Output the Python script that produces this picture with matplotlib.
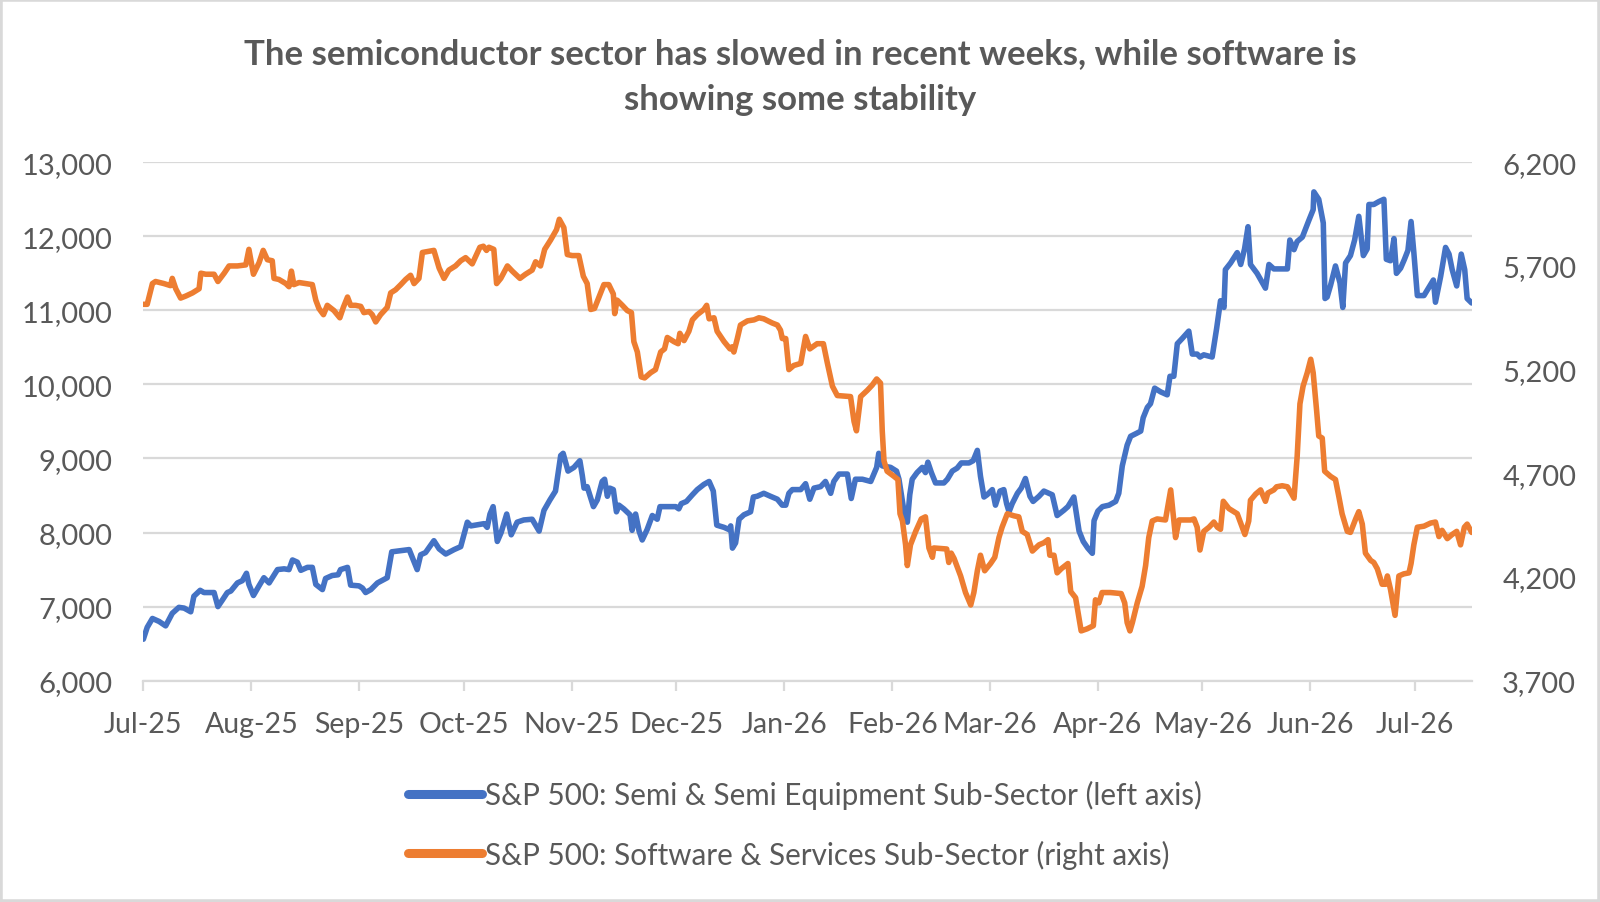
import matplotlib
matplotlib.use("Agg")
import matplotlib.pyplot as plt
import matplotlib.dates as mdates
from matplotlib.patches import Rectangle
from matplotlib.ticker import FuncFormatter
import pandas as pd

plt.rcParams['font.family'] = ['Lato', 'DejaVu Sans']

# days after 1 Jul 2025, index level
semi_days = [0, 1.1, 2.6, 4.5, 6.4, 8.3, 10.2, 11.7, 13.6, 14.5,
             16.3, 17.4, 20.3, 21.4, 22.7, 24.1, 25.1, 27.0, 28.4, 29.6,
             30.3, 31.6, 33.2, 34.6, 36.1, 38.5, 40.4, 41.8, 42.8, 44.2,
             45.2, 47.1, 48.5, 49.5, 51.4, 52.3, 54.2, 55.9, 56.6, 58.6,
             59.5, 61.9, 62.9, 63.8, 65.3, 67.2, 70.0, 71.3, 72.9, 76.3,
             77.5, 78.6, 79.6, 81.0, 83.4, 84.9, 86.8, 89.2, 91.1, 93.0,
             94.0, 96.6, 97.8, 98.7, 99.5, 100.4, 101.6, 102.7, 104.3, 105.6,
             107.3, 109.2, 111.6, 113.6, 115.0, 116.7, 118.3, 119.8, 120.5, 121.9,
             123.6, 125.3, 126.0, 126.5, 127.4, 129.2, 130.3, 131.7, 132.4, 133.2,
             133.9, 134.9, 135.8, 136.5, 137.9, 139.7, 140.3, 141.3, 142.3, 143.2,
             144.6, 146.1, 147.5, 148.3, 150.4, 152.8, 153.7, 154.4, 155.9, 157.6,
             159.0, 160.9, 162.4, 163.6, 164.6, 166.7, 168.1, 168.6, 169.1, 170.0,
             171.0, 172.4, 174.3, 175.1, 176.2, 178.1, 180.0, 182.0, 183.4, 184.4,
             185.3, 186.3, 188.7, 190.1, 191.3, 192.5, 194.4, 195.8, 197.3, 198.2,
             199.7, 202.1, 203.2, 204.4, 206.4, 208.8, 209.7, 210.5, 211.1, 212.1,
             214.5, 216.2, 216.9, 218.3, 219.3, 220.0, 220.7, 222.1, 223.6, 224.5,
             225.2, 226.2, 227.4, 229.8, 230.8, 232.2, 233.6, 234.8, 237.0, 238.2,
             239.4, 240.3, 241.3, 242.2, 243.7, 244.6, 245.9, 247.0, 247.8, 248.5,
             249.4, 250.9, 252.0, 253.2, 254.5, 255.4, 257.1, 258.5, 259.9, 260.9,
             262.3, 264.2, 265.4, 267.1, 268.6, 269.8, 271.1, 272.4, 272.9, 274.0,
             275.3, 277.2, 279.1, 280.0, 281.0, 282.4, 283.4, 285.1, 286.3, 287.0,
             288.2, 289.1, 290.3, 292.0, 293.9, 294.7, 295.8, 296.8, 298.2, 300.1,
             301.1, 302.5, 303.3, 304.4, 306.8, 308.1, 309.2, 310.2, 310.6, 312.1,
             314.0, 315.0, 316.1, 317.1, 317.8, 319.7, 322.1, 323.1, 324.5, 328.4,
             329.1, 330.3, 331.2, 332.7, 334.6, 335.8, 336.0, 337.4, 338.7, 339.2,
             339.8, 340.8, 342.2, 343.5, 344.3, 345.1, 346.5, 347.7, 348.9, 350.2,
             351.3, 351.8, 353.2, 354.7, 356.1, 356.8, 358.0, 359.0, 359.7, 360.9,
             362.0, 363.0, 363.9, 364.7, 365.7, 367.6, 370.3, 370.9, 372.4, 373.8,
             374.8, 375.7, 377.0, 378.3, 379.3, 380.0, 381.3]
semi_vals = [6560, 6720, 6840, 6800, 6740, 6910, 6990, 6980, 6930, 7140,
             7220, 7190, 7190, 7000, 7090, 7190, 7210, 7320, 7350, 7450,
             7300, 7150, 7280, 7390, 7320, 7500, 7510, 7500, 7630, 7600,
             7490, 7530, 7530, 7300, 7230, 7380, 7420, 7430, 7500, 7530,
             7290, 7280, 7250, 7190, 7230, 7320, 7390, 7740, 7750, 7770,
             7630, 7500, 7700, 7730, 7890, 7780, 7710, 7770, 7810, 8140,
             8090, 8110, 8120, 8070, 8250, 8350, 7880, 8000, 8250, 7970,
             8140, 8170, 8180, 8020, 8300, 8440, 8560, 9040, 9070, 8830,
             8880, 8970, 8770, 8600, 8620, 8350, 8440, 8690, 8720, 8490,
             8600, 8580, 8280, 8370, 8320, 8240, 8030, 8250, 8020, 7900,
             8040, 8230, 8180, 8350, 8350, 8350, 8320, 8390, 8420, 8510,
             8580, 8650, 8690, 8560, 8100, 8070, 8040, 8090, 7790, 7860,
             8180, 8240, 8280, 8480, 8490, 8530, 8490, 8450, 8370, 8370,
             8530, 8580, 8580, 8660, 8450, 8600, 8620, 8690, 8530, 8690,
             8790, 8790, 8460, 8720, 8720, 8690, 8790, 8880, 9070, 8900,
             8880, 8830, 8720, 8300, 8140, 8510, 8720, 8810, 8880, 8810,
             8950, 8810, 8670, 8670, 8720, 8830, 8870, 8940, 8940, 8970,
             9110, 8760, 8480, 8510, 8580, 8370, 8560, 8580, 8390, 8280,
             8390, 8530, 8600, 8730, 8490, 8420, 8490, 8560, 8530, 8510,
             8230, 8300, 8350, 8480, 8020, 7880, 7790, 7720, 8160, 8290,
             8350, 8370, 8420, 8530, 8900, 9180, 9300, 9340, 9370, 9550,
             9690, 9740, 9950, 9900, 9860, 10110, 10110, 10550, 10620, 10720,
             10410, 10410, 10370, 10400, 10370, 10760, 11130, 11040, 11550, 11640,
             11780, 11620, 11830, 12130, 11620, 11500, 11300, 11620, 11560, 11560,
             11950, 11820, 11930, 11990, 12220, 12360, 12600, 12500, 12180, 11160,
             11180, 11340, 11600, 11370, 11040, 11640, 11740, 11950, 12270, 11740,
             11830, 12430, 12430, 12470, 12500, 11690, 11670, 11970, 11500, 11570,
             11690, 11810, 12200, 11780, 11200, 11200, 11410, 11110, 11460, 11850,
             11760, 11550, 11330, 11760, 11550, 11160, 11100]

soft_days = [0, 1.1, 2.6, 3.5, 5.9, 7.8, 8.3, 9.3, 10.7, 12.2,
             14.1, 16.0, 16.5, 17.9, 20.3, 21.4, 23.2, 24.6, 27.0, 29.4,
             30.3, 31.6, 33.2, 34.4, 35.6, 37.0, 37.5, 38.9, 40.9, 41.8,
             42.5, 43.2, 44.7, 46.6, 48.5, 49.5, 50.4, 51.7, 52.8, 54.7,
             56.4, 57.4, 58.6, 59.5, 60.9, 62.4, 63.3, 64.8, 65.7, 66.7,
             68.1, 70.0, 71.0, 72.4, 73.9, 75.3, 76.7, 77.7, 79.1, 80.1,
             83.4, 84.9, 86.3, 87.7, 89.6, 91.1, 92.5, 94.4, 96.6, 97.6,
             98.5, 99.2, 100.6, 101.4, 102.6, 104.5, 105.9, 108.1, 109.7, 111.6,
             112.6, 114.0, 115.2, 116.9, 118.6, 119.4, 120.7, 121.7, 123.1, 125.0,
             126.3, 127.4, 128.4, 129.5, 130.8, 132.2, 133.6, 134.9, 135.3, 136.0,
             137.5, 138.9, 140.1, 140.8, 141.8, 142.9, 143.9, 145.6, 147.0, 148.5,
             149.6, 150.4, 152.3, 153.5, 154.0, 155.2, 156.6, 157.6, 159.0, 160.9,
             161.7, 162.4, 163.8, 164.7, 166.7, 168.4, 169.0, 169.5, 170.5, 171.4,
             173.4, 175.3, 176.7, 178.1, 180.5, 182.0, 182.9, 183.4, 184.4, 185.3,
             186.7, 188.7, 190.1, 191.3, 193.4, 195.2, 196.3, 197.8, 199.2, 203.0,
             204.0, 204.7, 205.9, 207.8, 209.2, 210.5, 211.6, 212.1, 212.6, 213.5,
             215.5, 216.6, 217.2, 217.9, 218.8, 219.3, 220.2, 221.7, 223.3, 224.5,
             225.5, 226.5, 226.9, 230.6, 231.2, 231.9, 232.7, 234.6, 236.0, 237.5,
             238.4, 239.4, 240.3, 241.5, 243.2, 244.4, 245.6, 246.5, 248.0, 249.9,
             251.3, 252.3, 253.7, 255.2, 257.1, 258.5, 259.7, 260.2, 261.4, 262.3,
             263.5, 265.4, 266.2, 267.6, 269.2, 270.9, 272.7, 273.3, 274.3, 275.2,
             277.6, 280.7, 281.7, 282.4, 283.2, 283.9, 285.3, 286.7, 287.7, 288.6,
             289.6, 291.0, 293.4, 294.9, 296.3, 297.3, 300.6, 301.6, 302.5, 303.3,
             304.4, 305.9, 307.3, 308.3, 309.2, 310.0, 311.6, 314.0, 315.0, 316.2,
             317.3, 317.8, 319.3, 320.7, 322.1, 322.8, 324.5, 325.3, 326.9, 328.4,
             329.3, 330.3, 331.2, 332.0, 332.9, 334.1, 335.1, 335.8, 336.8, 337.4,
             338.4, 339.1, 340.8, 342.2, 343.2, 344.1, 345.6, 346.5, 348.0, 348.9,
             349.9, 350.8, 352.3, 353.2, 354.2, 355.6, 356.6, 357.1, 358.0, 359.3,
             360.4, 361.8, 363.3, 363.9, 364.7, 365.7, 367.6, 369.5, 370.9, 371.9,
             372.8, 374.3, 375.7, 377.0, 378.1, 379.2, 380.0, 381.3]
soft_vals = [5515, 5515, 5615, 5625, 5615, 5605, 5640, 5590, 5545, 5555,
             5570, 5590, 5665, 5660, 5660, 5625, 5665, 5700, 5700, 5705,
             5780, 5660, 5715, 5775, 5730, 5725, 5640, 5635, 5615, 5600,
             5675, 5610, 5620, 5615, 5610, 5535, 5495, 5465, 5510, 5485,
             5450, 5500, 5550, 5510, 5510, 5505, 5475, 5480, 5465, 5430,
             5465, 5500, 5570, 5585, 5610, 5635, 5655, 5615, 5640, 5765,
             5775, 5690, 5640, 5680, 5700, 5725, 5740, 5710, 5790, 5795,
             5775, 5790, 5780, 5615, 5640, 5700, 5675, 5640, 5660, 5680,
             5720, 5700, 5780, 5825, 5875, 5925, 5885, 5755, 5750, 5750,
             5650, 5615, 5490, 5495, 5550, 5610, 5610, 5565, 5470, 5535,
             5510, 5485, 5475, 5335, 5285, 5165, 5160, 5185, 5200, 5285,
             5300, 5355, 5335, 5325, 5375, 5340, 5385, 5440, 5465, 5490,
             5510, 5445, 5450, 5385, 5335, 5300, 5310, 5285, 5350, 5415,
             5435, 5440, 5450, 5445, 5425, 5415, 5390, 5350, 5350, 5200,
             5220, 5230, 5360, 5300, 5325, 5325, 5235, 5120, 5075, 5070,
             4950, 4905, 5070, 5100, 5125, 5155, 5135, 4905, 4760, 4710,
             4685, 4670, 4505, 4470, 4355, 4255, 4355, 4420, 4480, 4490,
             4340, 4295, 4340, 4335, 4270, 4315, 4290, 4205, 4125, 4065,
             4125, 4230, 4305, 4230, 4265, 4295, 4390, 4440, 4505, 4495,
             4490, 4420, 4405, 4325, 4355, 4365, 4380, 4305, 4305, 4220,
             4240, 4265, 4130, 4100, 3940, 3950, 3965, 4090, 4075, 4125,
             4125, 4120, 4075, 3980, 3940, 3980, 4075, 4155, 4255, 4390,
             4470, 4480, 4475, 4620, 4390, 4475, 4475, 4480, 4440, 4330,
             4420, 4440, 4465, 4440, 4430, 4565, 4530, 4505, 4460, 4405,
             4470, 4570, 4600, 4620, 4565, 4605, 4620, 4635, 4640, 4635,
             4610, 4580, 4780, 5035, 5120, 5185, 5250, 5185, 5000, 4880,
             4870, 4710, 4685, 4670, 4585, 4505, 4420, 4415, 4480, 4515,
             4455, 4315, 4280, 4270, 4240, 4165, 4165, 4205, 4140, 4015,
             4205, 4215, 4220, 4265, 4355, 4440, 4445, 4460, 4465, 4395,
             4425, 4385, 4405, 4420, 4355, 4440, 4455, 4415]

start = pd.Timestamp("2025-07-01")
end_day = 381.3
left_ticks = [6000, 7000, 8000, 9000, 10000, 11000, 12000, 13000]
right_ticks = [3700, 4200, 4700, 5200, 5700, 6200]
semi_label = "S&P 500: Semi & Semi Equipment Sub-Sector (left axis)"
soft_label = "S&P 500: Software & Services Sub-Sector (right axis)"
title = ("The semiconductor sector has slowed in recent weeks, while software is\n"
         "showing some stability")

semi_dates = start + pd.to_timedelta(semi_days, unit="D")
soft_dates = start + pd.to_timedelta(soft_days, unit="D")

grey = "#595959"
blue = "#4472C4"
orange = "#ED7D31"

fig = plt.figure(figsize=(16, 9.03), dpi=100)
ax = fig.add_axes([0.0896, 0.2451, 0.8302, 0.5741])
ax2 = ax.twinx()  # right axis, drawn on top of the left one

l1, = ax.plot(semi_dates, semi_vals, color=blue, lw=4.0, solid_joinstyle="round",
              solid_capstyle="round", label=semi_label)
l2, = ax2.plot(soft_dates, soft_vals, color=orange, lw=4.0, solid_joinstyle="round",
               solid_capstyle="round", label=soft_label)

ax.set_xlim(start, start + pd.Timedelta(days=end_day))
ax.set_ylim(left_ticks[0], left_ticks[-1])
ax2.set_ylim(right_ticks[0], right_ticks[-1])
ax.set_yticks(left_ticks)
ax2.set_yticks(right_ticks)
fmt = FuncFormatter(lambda v, p: f"{v:,.0f}")
ax.yaxis.set_major_formatter(fmt)
ax2.yaxis.set_major_formatter(fmt)

ax.xaxis.set_major_locator(mdates.MonthLocator())
ax.xaxis.set_major_formatter(mdates.DateFormatter("%b-%y"))

ax.grid(axis="y", color="#d9d9d9", lw=1.6)
ax.set_axisbelow(True)
for a in (ax, ax2):
    for s in ("top", "left", "right", "bottom"):
        a.spines[s].set_visible(False)
ax.spines["bottom"].set_visible(True)
ax.spines["bottom"].set_color("#d9d9d9")
ax.spines["bottom"].set_linewidth(1.6)

ax.tick_params(axis="x", length=7, width=1.6, color="#d9d9d9", labelsize=20.5,
               labelcolor=grey, pad=15)
ax.tick_params(axis="y", length=0, labelsize=21, labelcolor=grey, pad=22)
ax2.tick_params(axis="y", length=0, labelsize=21, labelcolor=grey, pad=22)

fig.text(0.5, 1 - 77 / 903, title, ha="center", va="center", fontsize=25,
         fontweight="bold", color=grey, linespacing=1.55)

leg = fig.legend(handles=[l1, l2], loc="upper left", bbox_to_anchor=(408 / 1600, 1 - 781 / 903),
                 frameon=False, fontsize=21.3, handlelength=2.5, handletextpad=0.1,
                 labelspacing=1.03, borderaxespad=0, borderpad=0)
for t in leg.get_texts():
    t.set_color(grey)
for h in leg.legend_handles:
    h.set_linewidth(6.5)

fig.patches.append(Rectangle((0, 0), 1, 1, transform=fig.transFigure, fill=False,
                             edgecolor="#d9d9d9", lw=4))

fig.savefig("out.png", dpi=100)
